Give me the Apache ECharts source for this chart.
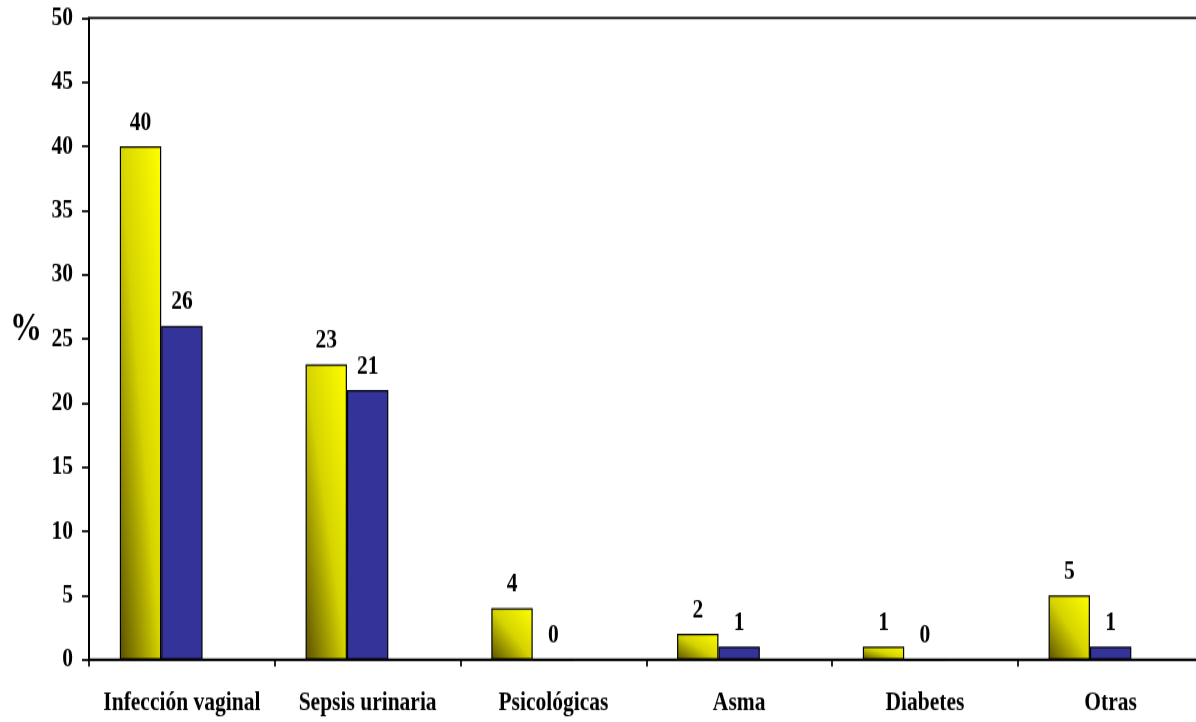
<!DOCTYPE html>
<html>
<head>
<meta charset="utf-8">
<script src="https://cdn.jsdelivr.net/npm/echarts@6/dist/echarts.min.js"></script>
<style>
  html, body { margin: 0; padding: 0; background: #fff; }
  #frame { width: 1196px; height: 722px; overflow: hidden; position: relative; }
  /* the chart uses tall, narrow lettering: draw it shorter and stretch it vertically */
  #chart { position: absolute; left: 0; top: 0; width: 1196px; height: 577.6px; transform: scaleY(1.25); transform-origin: 0 0; }
</style>
</head>
<body>
<div id="frame"><div id="chart"></div></div>
<script>
// Complicaciones durante el embarazo (%)
const categories = ['Infección vaginal', 'Sepsis urinaria', 'Psicológicas', 'Asma', 'Diabetes', 'Otras'];
const serieAmarilla = [40, 23, 4, 2, 1, 5];
const serieAzul = [26, 21, 0, 1, 0, 1];
const yTicks = { min: 0, max: 50, interval: 5 };
const yTitle = '%';

const FONT = '"Liberation Serif", "Times New Roman", serif';

// Approximate bar size in canvas pixels, used to orient the diagonal gradient
const BAR_W = 41.3;
const PX_PER_UNIT = 512.8 / 50;

function diagonalFill(v) {
  const w = BAR_W, h = Math.max(v * PX_PER_UNIT, 1);
  const s = w * w + h * h;
  const x2 = 2 * h * h / s;
  const y2 = 1 - 2 * w * w / s;
  return new echarts.graphic.LinearGradient(0, 1, x2, y2, [
    { offset: 0, color: '#5a5000' },
    { offset: 0.5, color: '#d6d400' },
    { offset: 1, color: '#ffff00' }
  ]);
}

const labelStyle = {
  show: true,
  position: 'top',
  distance: 8,
  color: '#000',
  fontFamily: FONT,
  fontWeight: 'bold',
  fontSize: 21.5
};

const chart = echarts.init(document.getElementById('chart'), null, { renderer: 'canvas' });

chart.setOption({
  animation: false,
  backgroundColor: '#fff',
  grid: {
    left: 89,
    top: 14.4,
    bottom: 50.4,
    width: 1114.5,
    containLabel: false,
    outerBoundsMode: 'none',
    show: true,
    borderColor: '#000',
    borderWidth: 1.7
  },
  graphic: [{
    type: 'text',
    left: 10,
    top: 248,
    style: {
      text: yTitle,
      fill: '#000',
      font: 'bold 32px ' + FONT
    }
  }],
  xAxis: {
    type: 'category',
    data: categories,
    boundaryGap: true,
    axisLine: { lineStyle: { color: '#000', width: 1.7 } },
    axisTick: { show: true, alignWithLabel: false, length: 5.6, lineStyle: { color: '#000', width: 1.7 } },
    axisLabel: {
      color: '#000',
      fontFamily: FONT,
      fontWeight: 'bold',
      fontSize: 21.5,
      margin: 24,
      interval: 0
    },
    splitLine: { show: false }
  },
  yAxis: {
    type: 'value',
    min: yTicks.min,
    max: yTicks.max,
    interval: yTicks.interval,
    axisLine: { show: true, lineStyle: { color: '#000', width: 2 } },
    axisTick: { show: true, length: 7, lineStyle: { color: '#000', width: 1.7 } },
    axisLabel: {
      color: '#000',
      fontFamily: FONT,
      fontWeight: 'bold',
      fontSize: 21.5,
      margin: 16
    },
    splitLine: { show: false }
  },
  series: [
    {
      type: 'bar',
      barGap: '0%',
      barCategoryGap: '33.2%',
      data: serieAmarilla.map(v => ({
        value: v,
        itemStyle: { color: diagonalFill(v), borderColor: '#000', borderWidth: 1.2 }
      })),
      label: labelStyle
    },
    {
      type: 'bar',
      data: serieAzul,
      itemStyle: { color: '#333399', borderColor: '#000', borderWidth: 1.2 },
      label: labelStyle
    },
    {
      // third slot of each group stays empty
      type: 'bar',
      data: categories.map(() => null)
    }
  ]
});
</script>
</body>
</html>
